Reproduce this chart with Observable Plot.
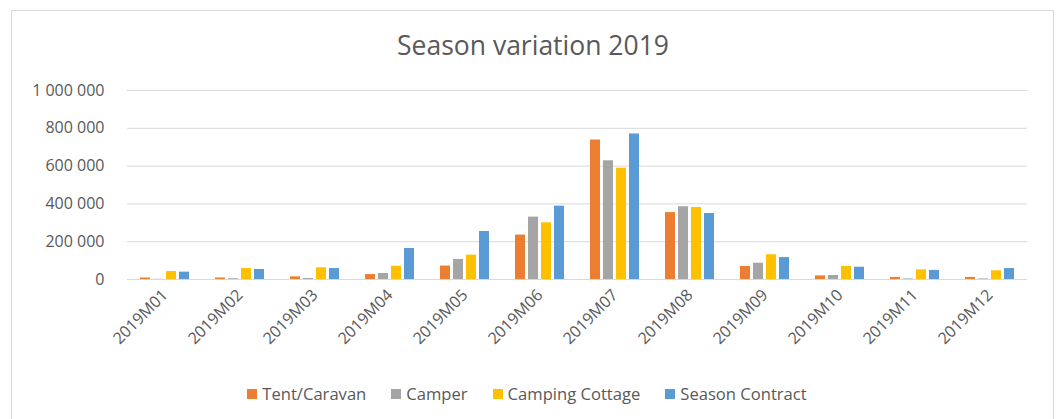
<!DOCTYPE html>
<html>
<head>
<meta charset="utf-8">
<script src="https://cdn.jsdelivr.net/npm/d3@7"></script>
<script src="https://cdn.jsdelivr.net/npm/@observablehq/plot@0.6"></script>
<style>
  html, body { margin: 0; padding: 0; background: #fff; }
  #wrap { position: relative; width: 1057px; height: 419px; overflow: hidden; font-family: "Open Sans", sans-serif; color: #595959; }
  #frame { position: absolute; left: 11px; top: 10px; width: 1043px; height: 430px; border: 1px solid #d9d9d9; box-sizing: border-box; }
  #title { position: absolute; left: 0; width: 1066px; top: 28px; text-align: center; font-size: 26.5px; line-height: 34px; color: #595959; }
  #chart { position: absolute; left: 0; top: 70px; }
  #legend { position: absolute; left: 0; width: 1054px; top: 383px; display: flex; justify-content: center; gap: 25px; font-size: 16.6px; line-height: 22px; color: #595959; }
  .item { display: flex; align-items: center; }
  .sw { width: 10px; height: 10px; margin-right: 5px; }
</style>
</head>
<body>
<div id="wrap">
  <div id="frame"></div>
  <div id="title"></div>
  <div id="chart"></div>
  <div id="legend"></div>
</div>
<script>
const title = "Season variation 2019";
const months = ["2019M01","2019M02","2019M03","2019M04","2019M05","2019M06","2019M07","2019M08","2019M09","2019M10","2019M11","2019M12"];
const series = ["Tent/Caravan","Camper","Camping Cottage","Season Contract"];
const colors = ["#ED7D31","#A5A5A5","#FFC000","#5B9BD5"];
const tentCaravan    = [8000, 8000, 14000, 26000, 71000, 235000, 738000, 354000, 69000, 19000, 11000, 11000];
const camper         = [1000, 4000, 5000, 32000, 106000, 330000, 628000, 385000, 86000, 21000, 3000, 3000];
const campingCottage = [42000, 58000, 62000, 70000, 129000, 300000, 589000, 381000, 131000, 69000, 51000, 46000];
const seasonContract = [39000, 53000, 58000, 164000, 254000, 388000, 770000, 349000, 116000, 65000, 48000, 58000];
const yTicks = [0, 200000, 400000, 600000, 800000, 1000000];

const valuesBySeries = [tentCaravan, camper, campingCottage, seasonContract];
const data = [];
months.forEach((m, i) => {
  series.forEach((s, j) => {
    data.push({month: m, series: s, value: valuesBySeries[j][i]});
  });
});

document.getElementById("title").textContent = title;

const fmt = d => d3.format(",")(d).replace(/,/g, " ");

const chart = Plot.plot({
  width: 1057,
  height: 300,
  marginLeft: 123,
  marginRight: 25,
  marginTop: 20,
  marginBottom: 91,
  style: {fontFamily: "Open Sans, sans-serif", fontSize: "16px", color: "#595959", background: "transparent", overflow: "visible"},
  fx: {domain: months, paddingInner: 20 / 75.6, paddingOuter: 10 / 75.6, label: null, tickRotate: -45, tickSize: 0, tickPadding: 13, axis: "bottom"},
  x: {domain: series, paddingInner: 0.2, paddingOuter: 0.1, axis: null},
  y: {domain: [0, 1000000], ticks: yTicks, tickFormat: fmt, tickSize: 0, tickPadding: 33, label: null},
  color: {domain: series, range: colors},
  marks: [
    Plot.ruleY(yTicks, {stroke: "#d9d9d9", strokeWidth: 1, insetLeft: -10, insetRight: -10}),
    Plot.barY(data, {fx: "month", x: "series", y: "value", fill: "series"})
  ]
});
chart.querySelectorAll("text").forEach(t => t.setAttribute("fill", "#595959"));
chart.querySelectorAll('[aria-label^="fx-axis"]').forEach(g => g.setAttribute("font-size", "16px"));
document.getElementById("chart").appendChild(chart);

const legend = document.getElementById("legend");
series.forEach((s, j) => {
  const item = document.createElement("div");
  item.className = "item";
  const sw = document.createElement("div");
  sw.className = "sw";
  sw.style.background = colors[j];
  const label = document.createElement("span");
  label.textContent = s;
  item.appendChild(sw);
  item.appendChild(label);
  legend.appendChild(item);
});
</script>
</body>
</html>
